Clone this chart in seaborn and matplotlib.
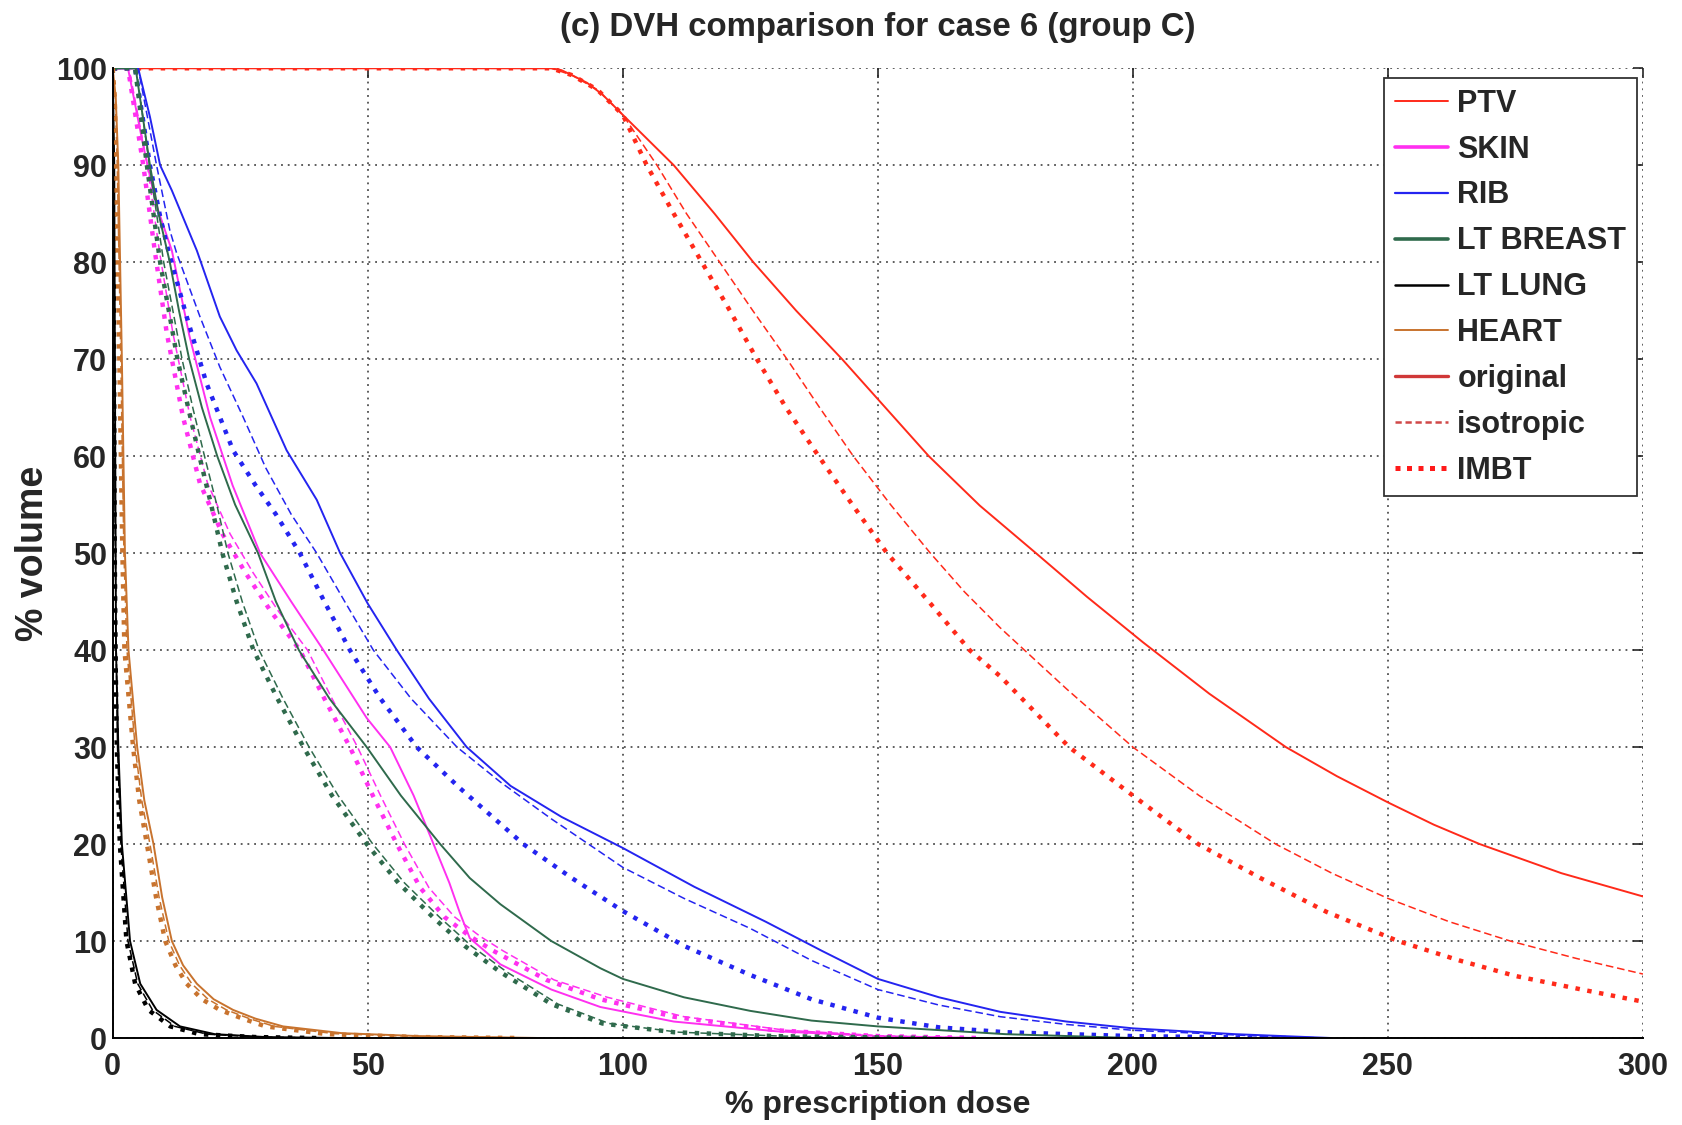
import matplotlib
matplotlib.use("Agg")
import matplotlib.pyplot as plt
from matplotlib.lines import Line2D
import seaborn as sns

# Data (% prescription dose vs % volume)
PTV_ORIG_DOSE = [0, 86, 88, 90, 93, 96, 100, 105, 110, 118, 125.6, 134, 143, 151.5, 160, 170, 181, 191,
                 202, 215, 230, 240, 250, 259, 268, 284, 300]
PTV_ORIG_VOL = [100, 100, 99.8, 99.3, 98.5, 97.3, 95.2, 92.6, 90, 85, 80, 75, 70, 65, 60, 54.9, 50, 45.5,
                40.8, 35.5, 30, 27, 24.3, 22, 20, 17, 14.6]
PTV_ISO_DOSE = [0, 86, 90, 95, 100, 106.7, 112.5, 119, 125.5, 132.2, 138.6, 145.2, 152.5, 160.3, 167,
                174, 187, 200, 213, 228, 239, 250, 262, 274, 287, 300]
PTV_ISO_VOL = [100, 100, 99.3, 97.8, 95.2, 90, 85, 80, 75, 70, 65, 60, 55, 50, 46, 42.3, 36, 30, 25,
               20, 17, 14.4, 12, 10, 8.2, 6.6]
PTV_IMBT_DOSE = [0, 86, 90, 95, 100, 104.7, 110, 115.5, 121, 126.3, 132, 138.4, 145, 151.8, 160, 168,
                 174, 187.5, 200, 212.8, 225, 238, 252, 264, 275, 288, 300]
PTV_IMBT_VOL = [100, 100, 99.3, 97.8, 95.2, 90, 85, 80, 75, 70, 65, 60, 55, 50, 45, 40, 37.3, 30, 25,
                20, 16.5, 13, 10, 8, 6.4, 5, 3.75]

SKIN_ORIG_DOSE = [0, 3, 6, 8.5, 11.6, 15, 19.1, 23.5, 28.9, 35, 41.3, 49.8, 54.4, 59, 62.9, 66, 68,
                  70, 76, 86, 95.6, 110, 130, 150, 170]
SKIN_ORIG_VOL = [100, 100, 92, 86, 81.2, 72.5, 64, 57, 50, 45, 40, 33, 30, 25, 20, 16, 13, 10.3, 7.6,
                 5, 3.2, 1.7, 0.7, 0.2, 0]
SKIN_ISO_DOSE = [0, 3.2, 5, 6.8, 9.2, 11.8, 15.2, 18.6, 23, 27.5, 32.5, 38.2, 43, 48, 52.5, 57.2,
                 62, 67, 72, 76.5, 86.5, 97, 112, 132, 152, 170]
SKIN_ISO_VOL = [100, 100, 95, 90, 81, 72.7, 64, 57.2, 52, 48, 44, 40, 35, 30, 25, 20, 15.5, 12.5,
                10.5, 9, 6, 4.2, 2.2, 0.8, 0.2, 0]
SKIN_IMBT_DOSE = [0, 3, 4.5, 6, 8.3, 10.6, 13.8, 17.1, 21.5, 26, 31, 36.7, 41.5, 46.5, 51, 55.7,
                  60.3, 65, 70, 74.6, 85, 95.6, 110, 130, 150, 170]
SKIN_IMBT_VOL = [100, 100, 95, 90, 81, 72.7, 64, 57.2, 52, 48, 44, 40, 35, 30, 25, 20, 15.5, 12.5,
                 10.5, 9, 6, 4.0, 2.2, 0.8, 0.2, 0]

RIB_ORIG_DOSE = [0, 5, 7.3, 9.3, 11.6, 16.5, 21, 24.3, 28.2, 34.1, 40, 44.6, 50, 55.7, 62, 69.4, 78,
                 88, 100, 114, 128, 139, 150, 162, 174, 187, 200, 220, 239]
RIB_ORIG_VOL = [100, 100, 95, 90, 87.4, 81.2, 74.4, 70.9, 67.5, 60.6, 55.5, 50, 44.8, 40, 35, 30,
                26, 22.8, 19.6, 15.6, 12, 9, 6.1, 4.2, 2.7, 1.7, 1.0, 0.4, 0]
RIB_ISO_DOSE = [0, 5, 8.6, 11.2, 12.5, 17.1, 21, 25.6, 30, 35, 40, 45.5, 51.1, 58.5, 67.5, 76, 86,
                100, 112, 125, 137, 150, 162, 174, 187, 200, 225, 238]
RIB_ISO_VOL = [100, 100, 90, 83.3, 81, 74.4, 69.2, 64, 58.8, 54, 50, 45, 40, 35, 30, 26.4, 22.6,
               17.6, 14.4, 11.3, 8, 5, 3.4, 2.2, 1.4, 0.8, 0.2, 0]
RIB_IMBT_DOSE = [0, 4.4, 7.3, 9.3, 10.9, 14.5, 18.4, 23.6, 28, 32, 36.7, 41.5, 46.5, 52.5, 59.6, 68,
                 80.5, 90, 100, 112, 125, 137, 150, 162, 175, 200, 230]
RIB_IMBT_VOL = [100, 100, 90, 84.7, 81.2, 74.4, 67.5, 60.6, 57, 54, 50, 45, 40, 35, 30, 25.8, 20,
                16.5, 13.1, 9.5, 6.5, 4.0, 2.1, 1.1, 0.6, 0.2, 0]

BREAST_ORIG_DOSE = [0, 4.5, 7.3, 9, 11.2, 13, 15, 17.5, 20.5, 24, 28.5, 32, 36.5, 42.5, 49.8, 56.5,
                    64.2, 70, 76, 86, 95.6, 100, 112, 125, 137, 150, 175, 200]
BREAST_ORIG_VOL = [100, 100, 90, 85, 80, 75, 70, 65, 60, 55, 50, 45, 40, 35, 30, 25, 20, 16.5, 13.8,
                   10, 7.2, 6.1, 4.2, 2.8, 1.8, 1.2, 0.4, 0]
BREAST_ISO_DOSE = [0, 4.6, 7.2, 8.6, 10, 11.8, 13.6, 15.7, 18, 20.4, 22.6, 25.4, 28.7, 33.4, 38.5,
                   44.2, 51, 57.2, 64.2, 70.3, 77.3, 87.3, 97.3, 111, 131, 160]
BREAST_ISO_VOL = [100, 100, 90, 85, 80, 75, 70, 65, 60, 55, 50, 45, 40, 35, 30, 25, 20, 16, 12.4, 9.5,
                  6.8, 3.5, 1.5, 0.6, 0.2, 0]
BREAST_IMBT_DOSE = [0, 4.4, 6.7, 8, 9.3, 11, 12.7, 14.8, 17, 19.3, 21.5, 24.3, 27.6, 32.3, 37.4, 43,
                    49.8, 56, 62.9, 69, 76, 86, 96, 110, 130, 160]
BREAST_IMBT_VOL = [100, 100, 90, 85, 80, 75, 70, 65, 60, 55, 50, 45, 40, 35, 30, 25, 20, 16, 12.4, 9.5,
                   6.8, 3.5, 1.5, 0.6, 0.2, 0]

LUNG_ORIG_DOSE = [0, 0.3, 0.5, 0.65, 1.1, 1.8, 3.4, 5.4, 8.6, 13.2, 20, 30, 45]
LUNG_ORIG_VOL = [100, 90, 60, 40, 30, 20, 10, 5.6, 2.9, 1.2, 0.4, 0.1, 0]
LUNG_ISO_DOSE = [0, 0.25, 0.45, 0.7, 0.95, 1.6, 3.0, 4.9, 7.8, 12.2, 18.5, 29, 42]
LUNG_ISO_VOL = [100, 85, 55, 40, 30, 20, 10, 5.6, 2.9, 1.2, 0.4, 0.1, 0]
LUNG_IMBT_DOSE = [0, 0.2, 0.4, 0.6, 0.8, 1.4, 2.7, 4.4, 7.0, 11.3, 17, 28, 40]
LUNG_IMBT_VOL = [100, 80, 50, 38, 30, 20, 10, 5.6, 2.9, 1.2, 0.4, 0.1, 0]

HEART_ORIG_DOSE = [0, 0.6, 1.1, 1.8, 2.4, 3.1, 4.8, 6.2, 8, 9.7, 11.6, 13.8, 16.5, 19.8, 23.6, 28,
                   33.4, 45, 60, 84]
HEART_ORIG_VOL = [100, 97, 90, 70, 50, 40, 30, 24.5, 20, 14.5, 10, 7.5, 5.6, 4, 2.9, 2, 1.2, 0.5,
                  0.2, 0]
HEART_ISO_DOSE = [0, 0.5, 0.9, 1.6, 2.2, 2.8, 4.4, 5.7, 7.3, 9.1, 11, 13.1, 15.5, 18.7, 22.3, 26.8,
                  31.7, 43.5, 60, 82]
HEART_ISO_VOL = [100, 97, 90, 70, 50, 40, 30, 24.5, 20, 14.5, 10, 7.5, 5.6, 4, 2.9, 2, 1.2, 0.45,
                 0.15, 0]
HEART_IMBT_DOSE = [0, 0.4, 0.7, 1.3, 1.9, 2.3, 4.0, 5.2, 6.7, 8.5, 10.3, 12.3, 14.5, 17.5, 21, 25.5,
                   30, 42, 60, 80]
HEART_IMBT_VOL = [100, 97, 90, 70, 50, 40, 30, 24.5, 20, 14.5, 10, 7.5, 5.6, 4, 2.9, 2, 1.2, 0.4,
                  0.1, 0]

STRUCTURES = ["PTV", "SKIN", "RIB", "LT BREAST", "LT LUNG", "HEART"]
METHODS = ["original", "isotropic", "IMBT"]
X_TICKS = [0, 50, 100, 150, 200, 250, 300]
Y_TICKS = [0, 10, 20, 30, 40, 50, 60, 70, 80, 90, 100]

colors = {
    "PTV": "#ff2a1a",
    "SKIN": "#ff30f0",
    "RIB": "#2424f0",
    "LT BREAST": "#2f6a4c",
    "LT LUNG": "#000000",
    "HEART": "#c8732e",
}

curves = {
    "PTV": [(PTV_ORIG_DOSE, PTV_ORIG_VOL), (PTV_ISO_DOSE, PTV_ISO_VOL), (PTV_IMBT_DOSE, PTV_IMBT_VOL)],
    "SKIN": [(SKIN_ORIG_DOSE, SKIN_ORIG_VOL), (SKIN_ISO_DOSE, SKIN_ISO_VOL), (SKIN_IMBT_DOSE, SKIN_IMBT_VOL)],
    "RIB": [(RIB_ORIG_DOSE, RIB_ORIG_VOL), (RIB_ISO_DOSE, RIB_ISO_VOL), (RIB_IMBT_DOSE, RIB_IMBT_VOL)],
    "LT BREAST": [(BREAST_ORIG_DOSE, BREAST_ORIG_VOL), (BREAST_ISO_DOSE, BREAST_ISO_VOL),
                  (BREAST_IMBT_DOSE, BREAST_IMBT_VOL)],
    "LT LUNG": [(LUNG_ORIG_DOSE, LUNG_ORIG_VOL), (LUNG_ISO_DOSE, LUNG_ISO_VOL), (LUNG_IMBT_DOSE, LUNG_IMBT_VOL)],
    "HEART": [(HEART_ORIG_DOSE, HEART_ORIG_VOL), (HEART_ISO_DOSE, HEART_ISO_VOL),
              (HEART_IMBT_DOSE, HEART_IMBT_VOL)],
}

# line style per method
styles = {
    "original": dict(linestyle="-", linewidth=1.4),
    "isotropic": dict(linestyle=(0, (5, 2.5)), linewidth=1.1),
    "IMBT": dict(linestyle=(0, (1, 1.7)), linewidth=3.2),
}

sns.set_style("white")
plt.rcParams["font.family"] = ["Liberation Sans", "DejaVu Sans"]
plt.rcParams["font.weight"] = "bold"

fig = plt.figure(figsize=(16.82, 11.25), dpi=100)
ax = fig.add_axes([0.067, 0.0773, 0.9098, 0.862])

for s in STRUCTURES:
    for m, (dose, vol) in zip(METHODS, curves[s]):
        sns.lineplot(x=dose, y=vol, ax=ax, color=colors[s], estimator=None,
                     sort=False, legend=False, **styles[m])

ax.set_xlim(0, 300)
ax.set_ylim(0, 100)
ax.set_xticks(X_TICKS)
ax.set_yticks(Y_TICKS)
ax.grid(True, color="#333333", linestyle=(0, (1.2, 3.2)), linewidth=1.1)
ax.set_axisbelow(True)

for side in ["top", "right"]:
    ax.spines[side].set_visible(False)
for side in ["left", "bottom"]:
    ax.spines[side].set_color("black")
    ax.spines[side].set_linewidth(1.4)

ax.tick_params(axis="both", direction="in", length=7, width=1.2, labelsize=22,
               top=True, right=True)
ax.tick_params(axis="x", pad=10)
ax.tick_params(axis="y", pad=4)
for lab in ax.get_xticklabels() + ax.get_yticklabels():
    lab.set_fontweight("bold")

ax.set_title("(c) DVH comparison for case 6 (group C)", fontsize=23.8,
             fontweight="bold", pad=23)
ax.set_xlabel("% prescription dose", fontsize=23, fontweight="bold", labelpad=6)
ax.set_ylabel("% volume", fontsize=27, fontweight="bold", labelpad=4)

# legend: structure colours then method styles
handles = [
    Line2D([], [], color=colors["PTV"], lw=1.4),
    Line2D([], [], color=colors["SKIN"], lw=2.6),
    Line2D([], [], color=colors["RIB"], lw=1.6),
    Line2D([], [], color=colors["LT BREAST"], lw=2.6),
    Line2D([], [], color=colors["LT LUNG"], lw=1.8),
    Line2D([], [], color=colors["HEART"], lw=1.4),
    Line2D([], [], color="#d03838", lw=2.4),
    Line2D([], [], color="#d04848", lw=1.8, linestyle=(0, (2.5, 1.5))),
    Line2D([], [], color="#ff1a1a", lw=3.6, linestyle=(0, (1, 1.3))),
]
labels = STRUCTURES + METHODS
leg = ax.legend(handles, labels, loc="upper right", bbox_to_anchor=(0.9961, 0.990),
                borderaxespad=0, fontsize=22, frameon=True, fancybox=False,
                handlelength=1.75, handletextpad=0.3, labelspacing=0.52,
                borderpad=0.35)
leg.get_frame().set_edgecolor("#333333")
leg.get_frame().set_linewidth(1.3)
leg.get_frame().set_alpha(1)
for t in leg.get_texts():
    t.set_fontweight("bold")

fig.savefig("out.png", dpi=100)
